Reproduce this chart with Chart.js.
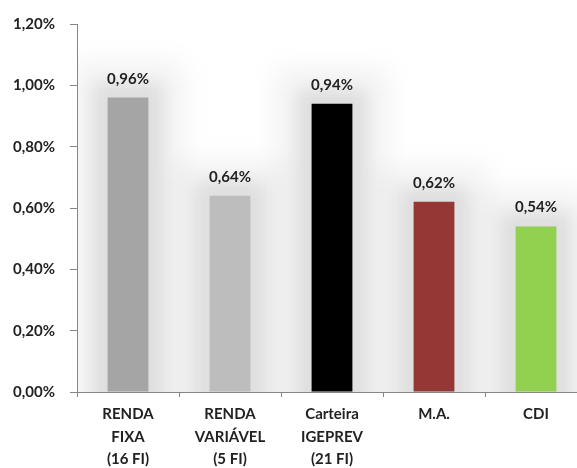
<!DOCTYPE html>
<html><head><meta charset="utf-8">
<script src="https://cdn.jsdelivr.net/npm/chart.js@4/dist/chart.umd.min.js"></script>
<style>
html,body{margin:0;padding:0;background:#fff;overflow:hidden;}
#wrap{width:600px;height:468px;position:relative;}
</style></head><body>
<div id="wrap"><canvas id="c" width="600" height="468"></canvas></div>
<script>
const categories = [["RENDA","FIXA","(16 FI)"],["RENDA","VARIÁVEL","(5 FI)"],["Carteira","IGEPREV","(21 FI)"],["M.A."],["CDI"]];
const values = [0.96, 0.64, 0.94, 0.62, 0.54];
const barColors = ["#A5A5A5", "#BDBDBD", "#000000", "#953735", "#92D050"];
const yTicks = [0, 0.2, 0.4, 0.6, 0.8, 1.0, 1.2];

const fmt = v => v.toFixed(2).replace('.', ',') + '%';
const FONT = "Lato, 'Open Sans', sans-serif";
const TXT = "#222222";

const glow = {
  id: 'glow',
  beforeDatasetsDraw(chart) {
    const ctx = chart.ctx;
    const a = chart.chartArea;
    const meta = chart.getDatasetMeta(0);
    ctx.save();
    ctx.beginPath();
    ctx.rect(a.left + 1, a.top - 30, a.right - a.left, a.bottom - a.top + 30);
    ctx.clip();
    const passes = [
      { inf: 34, blur: 14, col: 'rgba(0,0,0,0.06)' },
      { inf: 14, blur: 9, col: 'rgba(0,0,0,0.08)' }
    ];
    passes.forEach(p => {
      ctx.filter = 'blur(' + p.blur + 'px)';
      ctx.fillStyle = p.col;
      meta.data.forEach(bar => {
        const w = bar.width;
        ctx.beginPath();
        ctx.rect(bar.x - w / 2 - p.inf, bar.y - p.inf, w + 2 * p.inf, bar.base - bar.y + p.inf + 40);
        ctx.fill();
      });
    });
    ctx.filter = 'none';
    ctx.restore();
  },
  afterDatasetsDraw(chart) {
    const ctx = chart.ctx;
    const meta = chart.getDatasetMeta(0);
    ctx.save();
    ctx.font = "bold 15px " + FONT;
    ctx.fillStyle = TXT;
    ctx.textAlign = 'center';
    ctx.textBaseline = 'alphabetic';
    meta.data.forEach((bar, i) => {
      ctx.fillText(fmt(values[i]), bar.x, bar.y - 14);
    });
    ctx.restore();
  }
};

new Chart(document.getElementById('c'), {
  type: 'bar',
  data: {
    labels: categories,
    datasets: [{
      data: values,
      backgroundColor: barColors,
      borderWidth: 0,
      categoryPercentage: 1,
      barPercentage: 0.4
    }]
  },
  options: {
    responsive: false,
    animation: false,
    devicePixelRatio: 1,
    layout: { padding: { top: 20, right: 13, left: 0, bottom: 0 } },
    plugins: { legend: { display: false }, tooltip: { enabled: false } },
    scales: {
      x: {
        offset: true,
        afterFit(s) { s.height = 76; },
        grid: { display: true, drawOnChartArea: false, drawTicks: true, tickLength: 5, color: '#868686', offset: true },
        border: { display: true, color: '#868686', width: 1 },
        ticks: { color: TXT, font: { family: FONT, size: 15, weight: 'bold', lineHeight: 1.5 }, padding: 6, maxRotation: 0, autoSkip: false }
      },
      y: {
        min: 0, max: 1.2,
        afterFit(s) { s.width = 77; },
        afterBuildTicks(s) { s.ticks = yTicks.map(v => ({ value: v })); },
        grid: { display: true, drawOnChartArea: false, drawTicks: true, tickLength: 7, color: '#868686' },
        border: { display: true, color: '#868686', width: 1 },
        ticks: { color: TXT, font: { family: FONT, size: 15, weight: 'bold' }, padding: 15, callback: v => fmt(v) }
      }
    }
  },
  plugins: [glow]
});
</script>
</body></html>
